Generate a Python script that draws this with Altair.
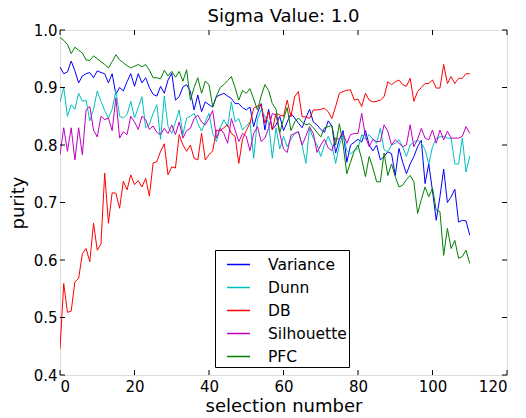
import altair as alt
import pandas as pd

x_vals = list(range(111))

variance = [0.936, 0.924, 0.927, 0.946, 0.929, 0.908, 0.92, 0.924, 0.926, 0.917,
            0.929, 0.926, 0.924, 0.908, 0.924, 0.888, 0.9, 0.894, 0.91, 0.924,
            0.902, 0.924, 0.908, 0.917, 0.9, 0.888, 0.885, 0.902, 0.89, 0.913,
            0.925, 0.878, 0.884, 0.901, 0.905, 0.893, 0.861, 0.887, 0.858, 0.875,
            0.87, 0.866, 0.884, 0.887, 0.89, 0.885, 0.881, 0.872, 0.872, 0.865,
            0.861, 0.866, 0.832, 0.855, 0.872, 0.826, 0.862, 0.827, 0.835, 0.85,
            0.825, 0.84, 0.855, 0.847, 0.838, 0.83, 0.847, 0.862, 0.84, 0.835,
            0.827, 0.822, 0.842, 0.833, 0.786, 0.81, 0.825, 0.77, 0.8, 0.805,
            0.81, 0.805, 0.825, 0.8, 0.79, 0.8, 0.774, 0.78, 0.788, 0.785,
            0.747, 0.794, 0.77, 0.75, 0.767, 0.78, 0.797, 0.808, 0.733, 0.767,
            0.72, 0.669, 0.71, 0.758, 0.7, 0.71, 0.723, 0.666, 0.669, 0.668, 0.643]

dunn = [0.875, 0.9, 0.85, 0.87, 0.862, 0.89, 0.876, 0.878, 0.842, 0.862,
        0.894, 0.876, 0.86, 0.847, 0.862, 0.894, 0.85, 0.847, 0.853, 0.876,
        0.847, 0.865, 0.884, 0.83, 0.836, 0.855, 0.87, 0.81, 0.885, 0.832,
        0.82, 0.84, 0.861, 0.818, 0.847, 0.85, 0.855, 0.838, 0.824, 0.84,
        0.855, 0.82, 0.806, 0.83, 0.844, 0.832, 0.875, 0.84, 0.846, 0.826,
        0.833, 0.84, 0.777, 0.844, 0.861, 0.85, 0.839, 0.777, 0.83, 0.793,
        0.815, 0.797, 0.81, 0.82, 0.823, 0.8, 0.768, 0.829, 0.812, 0.8,
        0.78, 0.8, 0.815, 0.8, 0.768, 0.8, 0.818, 0.79, 0.785, 0.79,
        0.794, 0.818, 0.81, 0.818, 0.81, 0.803, 0.829, 0.792, 0.788, 0.8,
        0.803, 0.809, 0.797, 0.78, 0.8, 0.805, 0.809, 0.803, 0.792, 0.767,
        0.797, 0.812, 0.814, 0.815, 0.812, 0.812, 0.767, 0.767, 0.812, 0.753, 0.781]

db = [0.445, 0.559, 0.509, 0.511, 0.562, 0.568, 0.611, 0.62, 0.597, 0.664,
      0.617, 0.628, 0.751, 0.664, 0.717, 0.716, 0.69, 0.737, 0.722, 0.748,
      0.731, 0.738, 0.727, 0.742, 0.711, 0.769, 0.771, 0.789, 0.802, 0.748,
      0.762, 0.76, 0.818, 0.8, 0.789, 0.8, 0.777, 0.774, 0.82, 0.774,
      0.783, 0.79, 0.826, 0.825, 0.83, 0.835, 0.82, 0.815, 0.768, 0.81,
      0.825, 0.838, 0.864, 0.868, 0.87, 0.838, 0.858, 0.826, 0.855, 0.852,
      0.85, 0.878, 0.849, 0.884, 0.893, 0.849, 0.849, 0.846, 0.861, 0.861,
      0.862, 0.864, 0.858, 0.846, 0.867, 0.89, 0.893, 0.895, 0.896, 0.878,
      0.88, 0.867, 0.89, 0.878, 0.875, 0.876, 0.878, 0.884, 0.91, 0.905,
      0.91, 0.913, 0.905, 0.902, 0.916, 0.876, 0.893, 0.9, 0.907, 0.907,
      0.913, 0.899, 0.899, 0.94, 0.907, 0.919, 0.907, 0.916, 0.916, 0.924, 0.924]

silhouette = [0.783, 0.83, 0.789, 0.83, 0.774, 0.83, 0.783, 0.861, 0.867, 0.826,
              0.814, 0.85, 0.844, 0.847, 0.825, 0.882, 0.812, 0.823, 0.818, 0.85,
              0.84, 0.827, 0.85, 0.844, 0.827, 0.833, 0.822, 0.818, 0.829, 0.82,
              0.835, 0.818, 0.84, 0.812, 0.825, 0.829, 0.846, 0.852, 0.84, 0.835,
              0.846, 0.86, 0.812, 0.829, 0.82, 0.803, 0.846, 0.826, 0.806, 0.82,
              0.815, 0.79, 0.82, 0.832, 0.806, 0.812, 0.829, 0.855, 0.852, 0.82,
              0.793, 0.787, 0.817, 0.82, 0.823, 0.8, 0.815, 0.832, 0.82, 0.787,
              0.8, 0.81, 0.795, 0.79, 0.812, 0.81, 0.82, 0.803, 0.818, 0.82,
              0.82, 0.855, 0.815, 0.797, 0.81, 0.806, 0.806, 0.835, 0.824, 0.8,
              0.809, 0.803, 0.797, 0.8, 0.835, 0.797, 0.81, 0.829, 0.812, 0.809,
              0.826, 0.803, 0.826, 0.809, 0.824, 0.812, 0.812, 0.812, 0.815, 0.832, 0.82]

pfc = [0.987, 0.982, 0.975, 0.959, 0.97, 0.965, 0.96, 0.948, 0.947, 0.955,
       0.95, 0.945, 0.94, 0.934, 0.945, 0.957, 0.948, 0.943, 0.938, 0.934,
       0.937, 0.94, 0.936, 0.94, 0.93, 0.917, 0.917, 0.915, 0.93, 0.92,
       0.928, 0.918, 0.928, 0.911, 0.931, 0.878, 0.9, 0.917, 0.89, 0.911,
       0.905, 0.867, 0.885, 0.9, 0.905, 0.912, 0.919, 0.9, 0.878, 0.895,
       0.89, 0.898, 0.88, 0.861, 0.885, 0.905, 0.895, 0.872, 0.862, 0.821,
       0.845, 0.865, 0.825, 0.84, 0.847, 0.84, 0.835, 0.837, 0.83, 0.822,
       0.814, 0.83, 0.832, 0.834, 0.8, 0.837, 0.8, 0.75, 0.77, 0.79,
       0.8, 0.775, 0.745, 0.78, 0.76, 0.736, 0.736, 0.786, 0.747, 0.767,
       0.745, 0.727, 0.73, 0.74, 0.747, 0.736, 0.681, 0.705, 0.727, 0.71,
       0.725, 0.687, 0.684, 0.608, 0.655, 0.62, 0.634, 0.603, 0.606, 0.617, 0.594]

series_names = ["Variance", "Dunn", "DB", "Silhouette", "PFC"]
series_colors = ["#0000ff", "#00bfbf", "#ff0000", "#bf00bf", "#008000"]
x_ticks = [0, 20, 40, 60, 80, 100, 120]
y_ticks = [0.4, 0.5, 0.6, 0.7, 0.8, 0.9, 1.0]

rows = []
for name, vals in zip(series_names, [variance, dunn, db, silhouette, pfc]):
    for xv, yv in zip(x_vals, vals):
        rows.append({"x": xv, "value": yv, "series": name})
df = pd.DataFrame(rows)

W, H = 447, 345
FONT = "DejaVu Sans"
TL = 5

xscale = alt.Scale(domain=[0, 120], nice=False, zero=False)
yscale = alt.Scale(domain=[0.4, 1.0], nice=False, zero=False)

lines = alt.Chart(df).mark_line(strokeWidth=1, clip=True).encode(
    x=alt.X("x:Q", scale=xscale,
            axis=alt.Axis(values=x_ticks, tickSize=0, domain=False, grid=False,
                          labelFontSize=15, labelPadding=4, labelColor="black",
                          labelFont=FONT, title="selection number",
                          titleFontSize=18, titleFont=FONT, titleFontWeight="normal",
                          titleColor="black", titlePadding=3)),
    y=alt.Y("value:Q", scale=yscale,
            axis=alt.Axis(values=y_ticks, format=".1f", tickSize=0, domain=False,
                          grid=False, labelFontSize=15, labelPadding=3,
                          labelColor="black", labelFont=FONT, title="purity",
                          titleFontSize=18, titleFont=FONT, titleFontWeight="normal",
                          titleColor="black", titlePadding=6)),
    color=alt.Color("series:N",
                    scale=alt.Scale(domain=series_names, range=series_colors),
                    legend=alt.Legend(title=None, orient="none", legendX=155, legendY=220,
                                      symbolType="stroke", symbolSize=530,
                                      symbolStrokeWidth=1.5, labelFontSize=15.5,
                                      labelFont=FONT, labelColor="black",
                                      labelOffset=17, padding=2, symbolOffset=9,
                                      rowPadding=2, strokeColor="black",
                                      fillColor="white", cornerRadius=0,
                                      labelLimit=200)),
    detail="series:N",
)

xt_df = pd.DataFrame({"x": x_ticks})
yt_df = pd.DataFrame({"value": y_ticks})

bottom_ticks = alt.Chart(xt_df).mark_rule(color="black", strokeWidth=1).encode(
    x=alt.X("x:Q", scale=xscale), y=alt.value(H), y2=alt.value(H - TL))
top_ticks = alt.Chart(xt_df).mark_rule(color="black", strokeWidth=1).encode(
    x=alt.X("x:Q", scale=xscale), y=alt.value(0), y2=alt.value(TL))
left_ticks = alt.Chart(yt_df).mark_rule(color="black", strokeWidth=1).encode(
    y=alt.Y("value:Q", scale=yscale), x=alt.value(0), x2=alt.value(TL))
right_ticks = alt.Chart(yt_df).mark_rule(color="black", strokeWidth=1).encode(
    y=alt.Y("value:Q", scale=yscale), x=alt.value(W), x2=alt.value(W - TL))

chart = alt.layer(lines, bottom_ticks, top_ticks, left_ticks, right_ticks).properties(
    width=W, height=H,
    title=alt.TitleParams("Sigma Value: 1.0", fontSize=18, font=FONT,
                          fontWeight="normal", color="black", offset=5, dy=8),
    autosize=alt.AutoSizeParams(type="none"),
    padding={"left": 60, "top": 30, "right": 19, "bottom": 43},
).configure_view(stroke="black", strokeWidth=1).configure(background="white")

chart.save("out.html", embed_options={"renderer": "svg", "actions": False})
